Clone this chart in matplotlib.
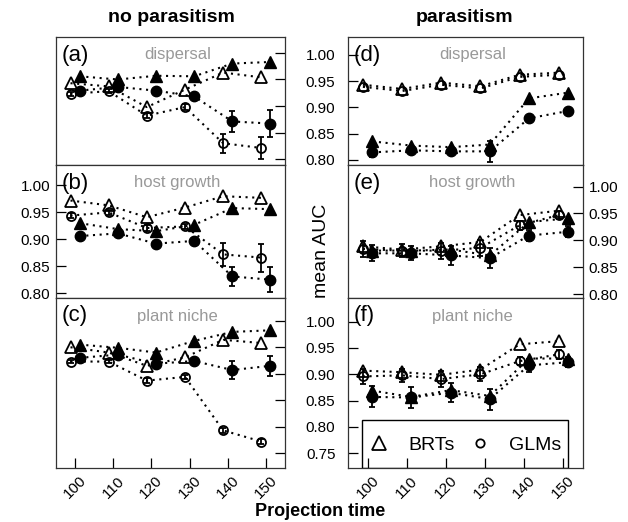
import numpy as np
import matplotlib
matplotlib.use("Agg")
import matplotlib.pyplot as plt
from matplotlib.lines import Line2D
from matplotlib.patches import Rectangle

plt.rcParams['font.family'] = ['Liberation Sans', 'DejaVu Sans']

years = [100, 110, 120, 130, 140, 150]

# BRT (triangles) and GLM (circles); open = one scenario, filled = the other
a_brt_open = [0.943, 0.937, 0.898, 0.931, 0.963, 0.954]
a_brt_fill = [0.956, 0.950, 0.957, 0.956, 0.980, 0.983]
a_glm_open = [0.923, 0.928, 0.882, 0.898, 0.830, 0.821]
a_glm_fill = [0.929, 0.936, 0.929, 0.918, 0.871, 0.867]
a_err_glm_open = [0.004, 0.004, 0.005, 0.005, 0.018, 0.020]
a_err_glm_fill = [0.004, 0.004, 0.004, 0.005, 0.019, 0.026]

b_brt_open = [0.972, 0.963, 0.941, 0.959, 0.980, 0.977]
b_brt_fill = [0.930, 0.919, 0.915, 0.927, 0.958, 0.956]
b_glm_open = [0.944, 0.950, 0.921, 0.924, 0.872, 0.866]
b_glm_fill = [0.906, 0.911, 0.892, 0.897, 0.831, 0.825]
b_err_glm_open = [0.004, 0.004, 0.005, 0.005, 0.022, 0.026]
b_err_glm_fill = [0.004, 0.004, 0.004, 0.005, 0.017, 0.023]

c_brt_open = [0.950, 0.940, 0.915, 0.931, 0.964, 0.958]
c_brt_fill = [0.955, 0.949, 0.940, 0.962, 0.979, 0.982]
c_glm_open = [0.923, 0.923, 0.887, 0.894, 0.793, 0.772]
c_glm_fill = [0.930, 0.936, 0.919, 0.924, 0.907, 0.915]
c_err_glm_open = [0.003, 0.003, 0.004, 0.004, 0.004, 0.004]
c_err_glm_fill = [0.004, 0.004, 0.005, 0.005, 0.017, 0.019]

d_brt_open = [0.943, 0.935, 0.947, 0.940, 0.962, 0.966]
d_brt_fill = [0.835, 0.827, 0.824, 0.829, 0.917, 0.928]
d_glm_open = [0.939, 0.931, 0.943, 0.936, 0.958, 0.962]
d_glm_fill = [0.814, 0.818, 0.816, 0.816, 0.879, 0.893]
d_err_glm_open = [0, 0, 0, 0, 0, 0]
d_err_glm_fill = [0.008, 0.005, 0.005, 0.020, 0.005, 0.005]

e_brt_open = [0.889, 0.883, 0.889, 0.897, 0.947, 0.955]
e_brt_fill = [0.881, 0.881, 0.883, 0.872, 0.934, 0.941]
e_glm_open = [0.884, 0.881, 0.881, 0.886, 0.928, 0.947]
e_glm_fill = [0.876, 0.876, 0.872, 0.867, 0.909, 0.916]
e_err_glm_open = [0.015, 0.012, 0.015, 0.015, 0.008, 0.008]
e_err_glm_fill = [0.015, 0.013, 0.017, 0.018, 0.010, 0.010]

f_brt_open = [0.907, 0.904, 0.899, 0.909, 0.957, 0.963]
f_brt_fill = [0.869, 0.857, 0.870, 0.859, 0.930, 0.930]
f_glm_open = [0.896, 0.898, 0.891, 0.900, 0.925, 0.938]
f_glm_fill = [0.857, 0.856, 0.865, 0.853, 0.917, 0.923]
f_err_glm_open = [0.015, 0.013, 0.015, 0.013, 0.008, 0.008]
f_err_glm_fill = [0.020, 0.020, 0.018, 0.020, 0.012, 0.010]

panels = [
    ("(a)", "dispersal", a_brt_open, a_brt_fill, a_glm_open, a_glm_fill, a_err_glm_open, a_err_glm_fill),
    ("(b)", "host growth", b_brt_open, b_brt_fill, b_glm_open, b_glm_fill, b_err_glm_open, b_err_glm_fill),
    ("(c)", "plant niche", c_brt_open, c_brt_fill, c_glm_open, c_glm_fill, c_err_glm_open, c_err_glm_fill),
    ("(d)", "dispersal", d_brt_open, d_brt_fill, d_glm_open, d_glm_fill, d_err_glm_open, d_err_glm_fill),
    ("(e)", "host growth", e_brt_open, e_brt_fill, e_glm_open, e_glm_fill, e_err_glm_open, e_err_glm_fill),
    ("(f)", "plant niche", f_brt_open, f_brt_fill, f_glm_open, f_glm_fill, f_err_glm_open, f_err_glm_fill),
]

W, H = 628, 522
fig = plt.figure(figsize=(W / 100, H / 100), dpi=100)

# axes boxes in pixels: left, right, top, bottom
cols = [(56, 285), (348, 583)]
rows = [(37, 165), (165, 298), (298, 468)]
ylims = [(0.789, 1.030), (0.791, 1.038), (0.722, 1.043),
         (0.790, 1.034), (0.793, 1.040), (0.722, 1.045)]

dots = (0, (1, 2.2))
xoff_open, xoff_fill = -1.2, 1.2


def err_bars(ax, xs, ys, err):
    err = np.asarray(err)
    keep = err > 0
    if keep.any():
        ax.errorbar(xs[keep], np.asarray(ys)[keep], yerr=err[keep], fmt='none', ecolor='black',
                    elinewidth=1.3, capsize=2.5, capthick=1.3, zorder=2)


for i, (lab, name, bo, bf, go, gf, ego, egf) in enumerate(panels):
    col, row = divmod(i, 3)
    l, r = cols[col]
    t, b = rows[row]
    ax = fig.add_axes([l / W, 1 - b / H, (r - l) / W, (b - t) / H])
    xo = np.array(years) + xoff_open
    xf = np.array(years) + xoff_fill

    for xs, ys in [(xo, bo), (xf, bf), (xo, go), (xf, gf)]:
        ax.plot(xs, ys, linestyle=dots, color='black', lw=1.5, zorder=1)
    err_bars(ax, xo, go, ego)
    err_bars(ax, xf, gf, egf)
    ax.plot(xo, go, 'o', ms=6.5, mfc='none', mec='black', mew=1.3, zorder=3)
    ax.plot(xf, gf, 'o', ms=7.5, mfc='black', mec='black', zorder=3)
    ax.plot(xo, bo, '^', ms=9, mfc='none', mec='black', mew=1.3, zorder=3)
    ax.plot(xf, bf, '^', ms=9, mfc='black', mec='black', zorder=3)

    ax.set_xlim(95, 155)
    ax.set_ylim(*ylims[i])
    for s in ax.spines.values():
        s.set_linewidth(0.9)
        s.set_color('#333333')

    lo = 0.75 if row == 2 else 0.80
    yt = np.arange(lo, 1.001, 0.05)
    ax.set_yticks(yt)
    ax.set_yticklabels(['%.2f' % v for v in yt])
    ax.tick_params(axis='y', direction='in', length=7, width=0.9, labelsize=11)
    if col == 0 and row != 1:
        ax.tick_params(axis='y', left=False, labelleft=False, right=True, labelright=False)
    elif col == 0:
        ax.tick_params(axis='y', left=True, labelleft=True, pad=4)
    elif row == 1:
        ax.tick_params(axis='y', left=False, labelleft=False, right=True, labelright=True, pad=4)
    else:
        ax.tick_params(axis='y', left=True, labelleft=True, pad=9)

    ax.set_xticks(years)
    if row == 2:
        ax.set_xticklabels([str(v) for v in years], rotation=45, ha='center')
        ax.tick_params(axis='x', direction='in', length=7, width=0.9, labelsize=11, pad=4)
    else:
        ax.tick_params(axis='x', bottom=False, labelbottom=False)

    ax.annotate(lab, xy=(0, 1), xycoords='axes fraction', xytext=(6, -18),
                textcoords='offset pixels', ha='left', va='center', fontsize=16)
    ax.annotate(name, xy=(0.53, 1), xycoords='axes fraction', xytext=(0, -18),
                textcoords='offset pixels', ha='center', va='center', fontsize=12, color='#999999')

    if i == 5:
        ax.add_patch(Rectangle((0.06, 0.0), 0.877, 0.282, transform=ax.transAxes,
                               facecolor='none', edgecolor='black', lw=1.0, zorder=4))
        handles = [Line2D([], [], marker='^', ls='none', ms=10, mfc='none', mec='black', mew=1.3),
                   Line2D([], [], marker='o', ls='none', ms=6, mfc='none', mec='black', mew=1.3)]
        leg = ax.legend(handles, ['BRTs', 'GLMs'], ncol=2, loc='center',
                        bbox_to_anchor=(0.5, 0.135), fontsize=14, frameon=False,
                        handlelength=1.0, handletextpad=1.0, columnspacing=0.8,
                        borderpad=0.0, borderaxespad=0)
        leg.set_zorder(5)

fig.text(171 / W, 1 - 18 / H, 'no parasitism', ha='center', va='center', fontsize=14, fontweight='bold')
fig.text(465 / W, 1 - 18 / H, 'parasitism', ha='center', va='center', fontsize=14, fontweight='bold')
fig.text(320 / W, 1 - 511 / H, 'Projection time', ha='center', va='center', fontsize=13, fontweight='bold')
fig.text(321 / W, 1 - 251 / H, 'mean AUC', ha='center', va='center', fontsize=14, rotation=90)

fig.savefig('out.png', dpi=100)
